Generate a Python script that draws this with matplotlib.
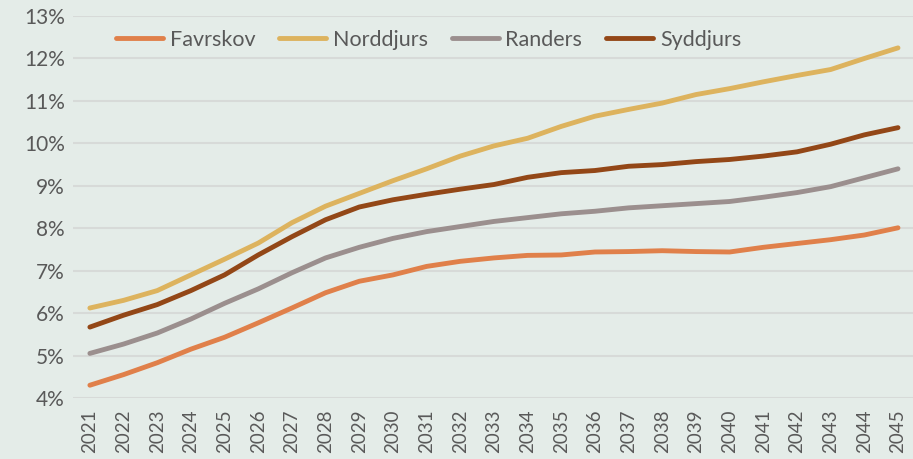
import matplotlib
matplotlib.use("Agg")
import matplotlib.pyplot as plt
import numpy as np

years = [str(y) for y in range(2021, 2046)]
favrskov = [4.30, 4.55, 4.83, 5.15, 5.43, 5.77, 6.12, 6.48, 6.75, 6.90, 7.10, 7.22, 7.30, 7.36, 7.37, 7.44, 7.45, 7.47, 7.45, 7.44, 7.55, 7.64, 7.73, 7.84, 8.01]
norddjurs = [6.12, 6.30, 6.53, 6.90, 7.27, 7.65, 8.13, 8.52, 8.82, 9.12, 9.40, 9.70, 9.94, 10.12, 10.40, 10.64, 10.80, 10.95, 11.15, 11.29, 11.45, 11.60, 11.74, 12.00, 12.25]
randers = [5.05, 5.27, 5.53, 5.86, 6.23, 6.57, 6.95, 7.30, 7.55, 7.76, 7.92, 8.04, 8.16, 8.25, 8.34, 8.40, 8.48, 8.53, 8.58, 8.63, 8.73, 8.84, 8.98, 9.19, 9.40]
syddjurs = [5.67, 5.95, 6.20, 6.53, 6.90, 7.37, 7.80, 8.20, 8.50, 8.67, 8.80, 8.92, 9.03, 9.20, 9.31, 9.36, 9.46, 9.50, 9.57, 9.62, 9.70, 9.80, 9.98, 10.20, 10.37]
series_names = ["Favrskov", "Norddjurs", "Randers", "Syddjurs"]
colors = ["#E0804A", "#DDB35E", "#9B8F8E", "#934717"]
yticks = list(range(4, 14))

plt.rcParams['font.family'] = ['Lato', 'DejaVu Sans']
bg = "#E4ECE8"
fig = plt.figure(figsize=(9.13, 4.59), dpi=100, facecolor=bg)
ax = fig.add_axes([0.080, 0.133, 0.922, 0.832], facecolor=bg)

x = np.arange(len(years))
for name, vals, c in zip(series_names, [favrskov, norddjurs, randers, syddjurs], colors):
    ax.plot(x, vals, color=c, lw=3.5, solid_capstyle='round', label=name)

ax.set_xlim(-0.5, len(years) - 0.5)
ax.set_ylim(4, 13)
ax.set_yticks(yticks)
ax.set_yticklabels([f"{t}%" for t in yticks], fontsize=15, color="#595959")
ax.set_xticks(x)
ax.set_xticklabels(years, rotation=90, fontsize=13.5, color="#595959")
ax.grid(axis='y', color="#D7DAD8", lw=1.5)
ax.set_axisbelow(True)
for s in ax.spines.values():
    s.set_visible(False)
ax.tick_params(length=0, pad=6)
ax.tick_params(axis='x', pad=8)

leg = ax.legend(loc='upper left', bbox_to_anchor=(0.028, 1.015), ncol=4, frameon=False,
                fontsize=15.5, handlelength=2.2, columnspacing=1.1, handletextpad=0.3,
                labelcolor="#595959")
plt.savefig("out.png", dpi=100, facecolor=bg)
